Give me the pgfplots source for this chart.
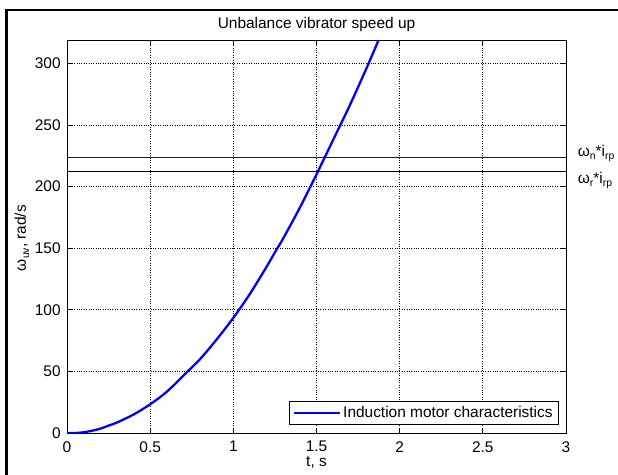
\documentclass[border=0pt]{standalone}
\usepackage{pgfplots}
\pgfplotsset{compat=1.18}
\usepackage{fontspec}
\setmainfont{Liberation Sans}
\newcommand\sub[1]{\raisebox{-0.4ex}{\fontsize{10.5}{10.5}\selectfont #1}}
\begin{document}
\fontsize{15.5}{17}\selectfont
\begin{tikzpicture}[x=1bp,y=1bp]
\path[use as bounding box] (0,0) rectangle (618,475);
\draw[line width=2.5bp] (6.5,-5) -- (6.5,465) -- (625,465);
\begin{axis}[
  at={(67bp,42bp)}, anchor=south west,
  scale only axis, width=499bp, height=392.3bp,
  xmin=0, xmax=3, ymin=0, ymax=318.5,
  xtick={0,0.5,1,1.5,2,2.5,3}, ytick={0,50,100,150,200,250,300},
  xticklabels={0,0.5,1,1.5,2,2.5,3},
  grid=major, major grid style={black, dotted, line width=0.7bp},
  tick align=inside, major tick length=5bp,
  axis line style={black, line width=0.8bp},
  every tick/.style={black, line width=0.8bp},
  tick label style={font=\fontsize{15.5}{17}\selectfont},
  /pgf/number format/assume math mode=true,
  xticklabel style={yshift=-3bp},
  yticklabel style={xshift=-1bp},
  clip mode=individual,
  legend style={at={(0.986,0.02)}, anchor=south east, draw=black, line width=0.8bp,
    font=\fontsize{15.5}{17}\selectfont, inner xsep=4bp, inner ysep=3bp,
    cells={anchor=west}},
  legend image code/.code={\draw[#1] (0bp,0bp) -- (46bp,0bp);},
]
\addplot[blue, line width=2.3bp, smooth] coordinates {
(0,0) (0.05,0) (0.1,0.6) (0.15,1.8) (0.2,3.5) (0.25,6) (0.3,8.5) (0.4,15) (0.5,23.3)
(0.6,33.5) (0.71,48) (0.8,60) (0.9,76) (1.0,93.5) (1.1,113) (1.2,135) (1.26,149)
(1.3,158) (1.4,183) (1.5,210) (1.6,238) (1.7,266) (1.8,296) (1.87,318) (1.9,328)};
\addlegendentry{Induction motor characteristics}
\addplot[blue, line width=1.2bp, forget plot, mark=none] coordinates {(0,223.5) (3,223.5)};
\addplot[black, line width=0.9bp, forget plot, mark=none] coordinates {(0,212.5) (3,212.5)};
\node[anchor=west, inner sep=0] at (axis cs:3.07,227) {ω\sub{n}*i\sub{rp}};
\node[anchor=west, inner sep=0] at (axis cs:3.07,205) {ω\sub{r}*i\sub{rp}};
\end{axis}
\node at (316.5,450) {Unbalance vibrator speed up};
\node at (316.5,13) {t, s};
\node[rotate=90] at (22,237) {ω\sub{uv}, rad/s};
\end{tikzpicture}
\end{document}
